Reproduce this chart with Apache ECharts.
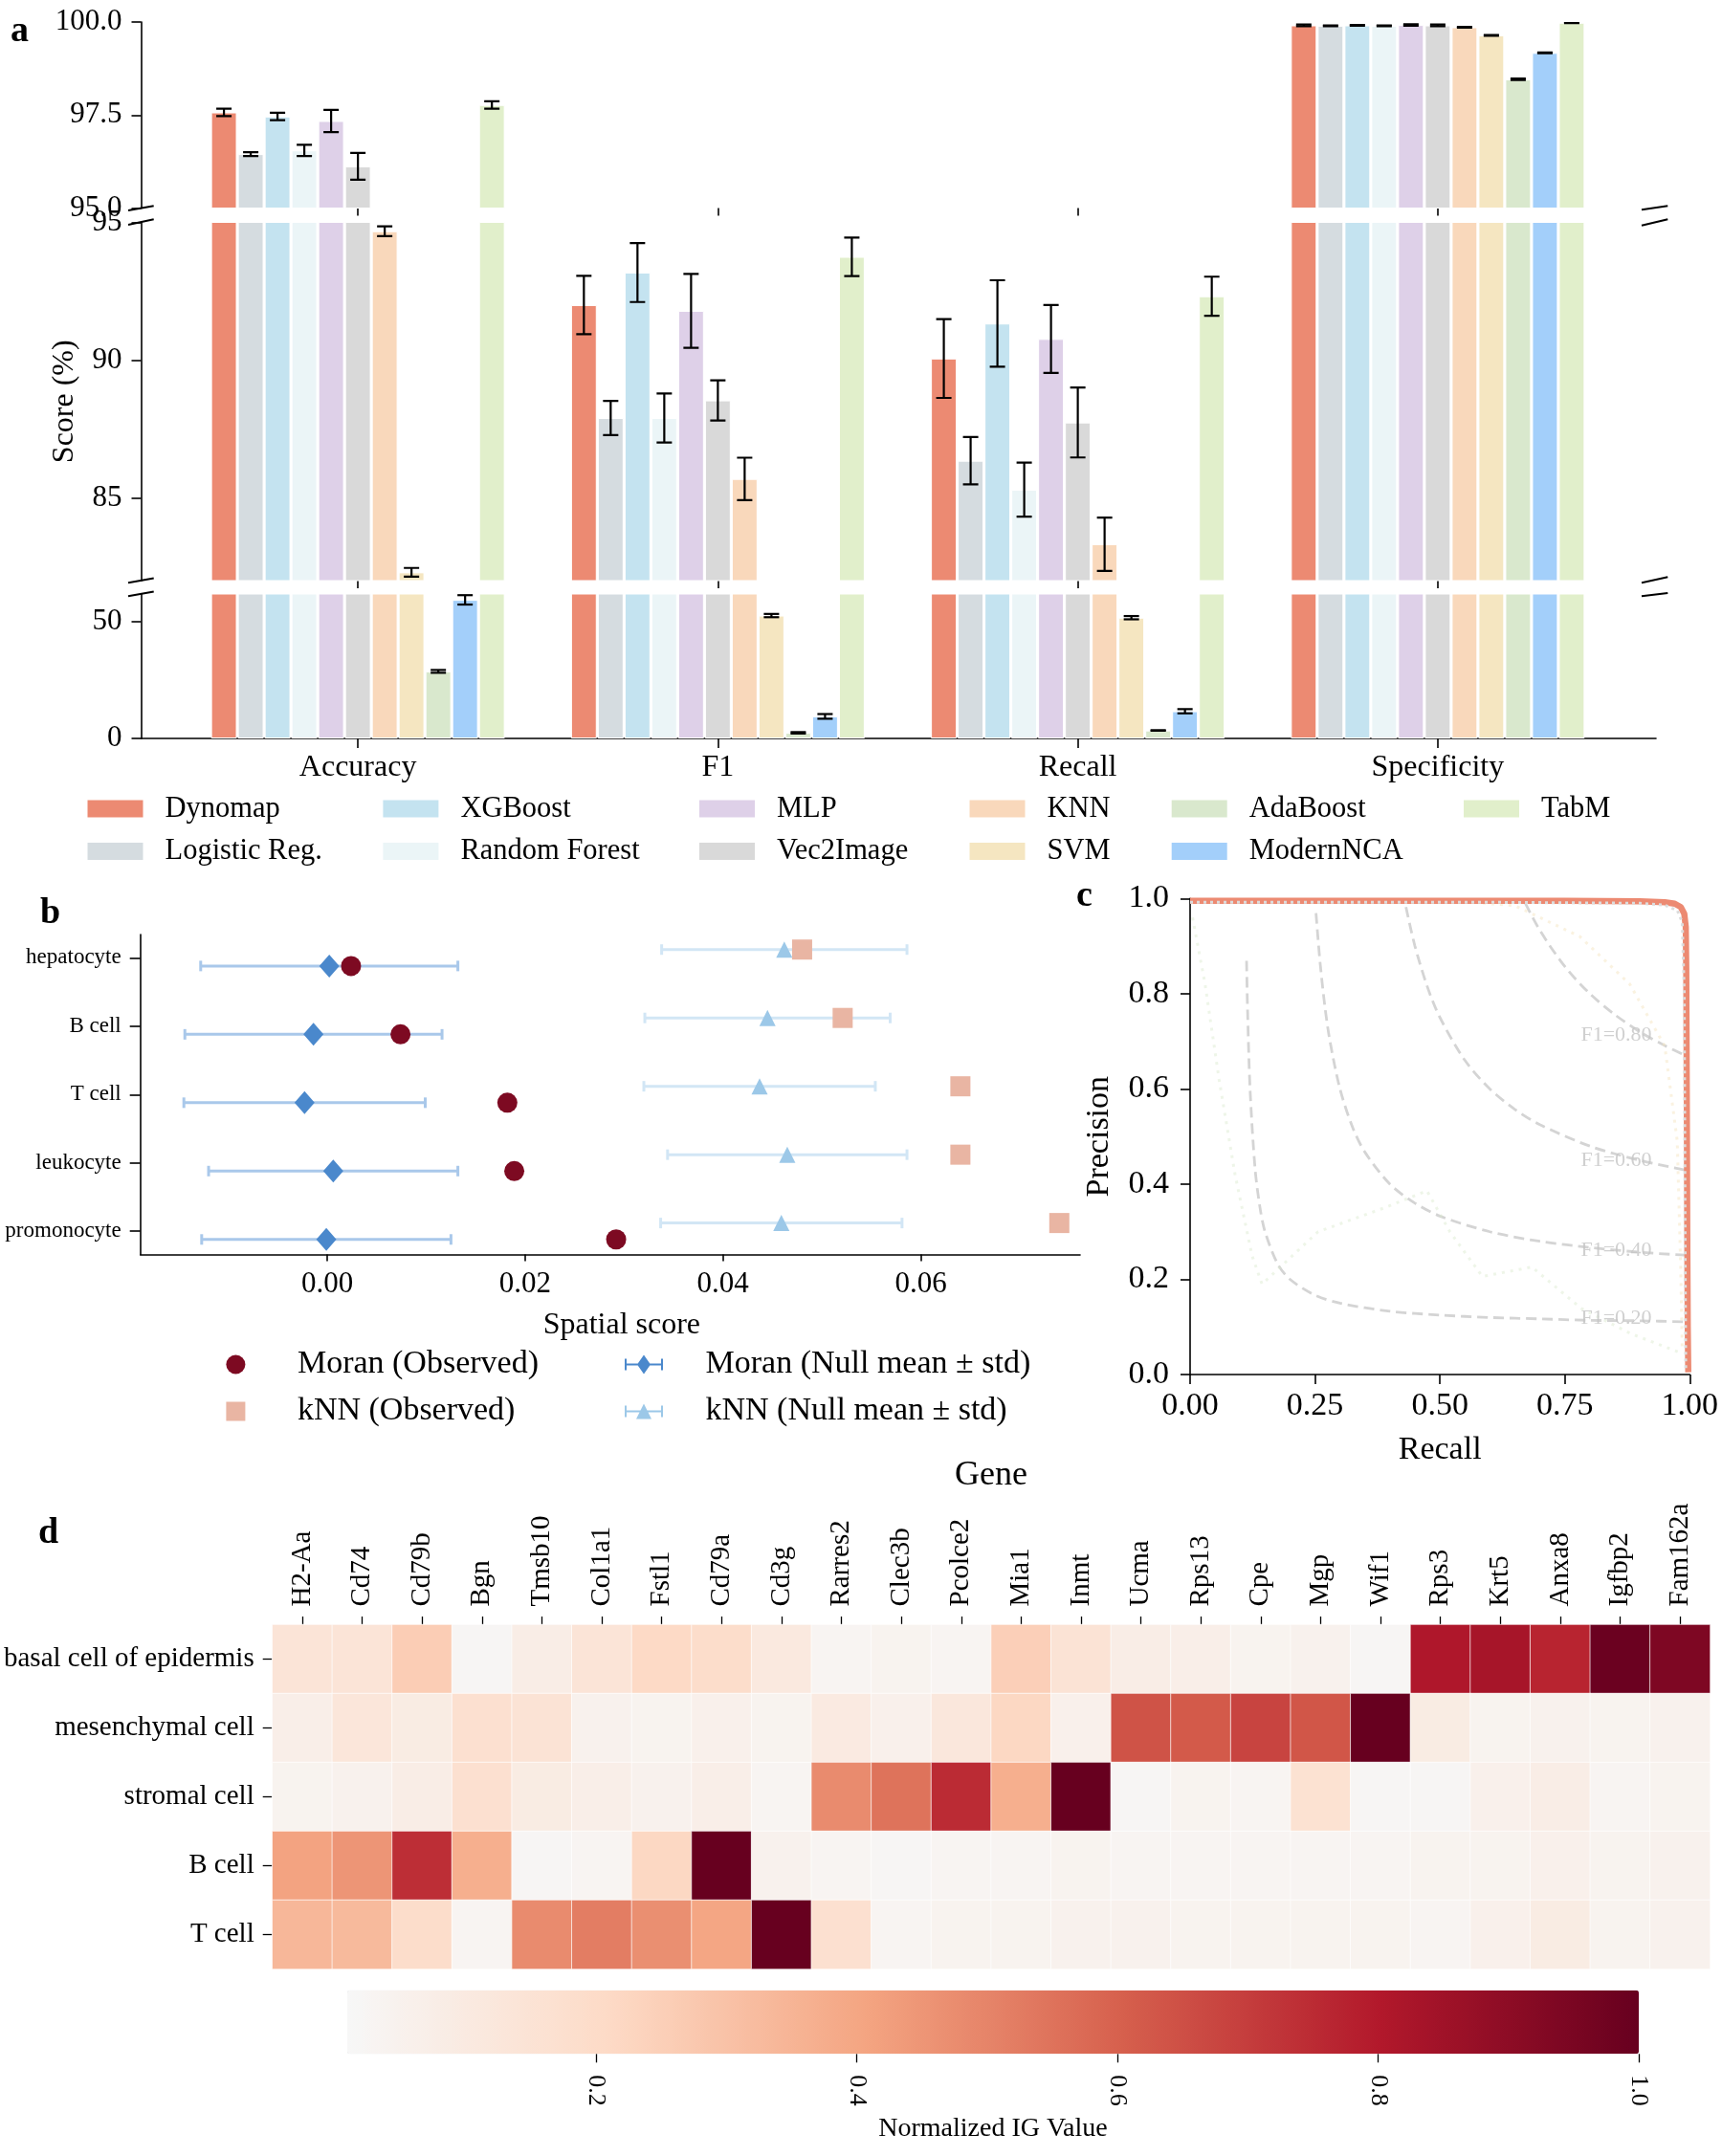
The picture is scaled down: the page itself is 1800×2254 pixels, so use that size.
<!DOCTYPE html>
<html>
<head>
<meta charset="utf-8">
<title>model comparison figure</title>
<script src="https://cdn.jsdelivr.net/npm/echarts@6/dist/echarts.min.js"></script>
<style>
  html, body { margin: 0; padding: 0; background: #fff; }
  #main { width: 1800px; height: 2254px; }
</style>
</head>
<body>
<div id="main"></div>
<script>
// ---------- a: scores per metric (%) ----------
var metrics = ['Accuracy', 'F1', 'Recall', 'Specificity'];
var models = ['Dynomap', 'Logistic Reg.', 'XGBoost', 'Random Forest', 'MLP', 'Vec2Image', 'KNN', 'SVM', 'AdaBoost', 'ModernNCA', 'TabM'];
var modelColors = ['#ec8a72', '#d5dce0', '#c4e3f0', '#ebf5f7', '#ded0e8', '#d9d9d9', '#f9d8bb', '#f5e6c1', '#d9e8cd', '#a3cffa', '#e1efcb'];

var accuracyScore = [97.57, 96.45, 97.46, 96.55, 97.34, 96.12, 94.68, 82.3, 28.6, 59.1, 97.77];
var accuracyErr = [0.1, 0.05, 0.1, 0.15, 0.3, 0.36, 0.18, 0.16, 0.6, 2.0, 0.1];
var f1Score = [92.0, 87.9, 93.18, 87.9, 91.79, 88.54, 85.69, 52.4, 2.4, 9.4, 93.75];
var f1Err = [1.06, 0.62, 1.07, 0.89, 1.34, 0.73, 0.77, 0.7, 0.3, 1.0, 0.7];
var recallScore = [90.06, 86.35, 91.33, 85.3, 90.77, 87.74, 83.32, 51.5, 3.4, 11.6, 92.32];
var recallErr = [1.43, 0.86, 1.57, 0.98, 1.23, 1.27, 0.97, 0.7, 0.1, 0.9, 0.71];
var specificityScore = [99.91, 99.9, 99.91, 99.9, 99.92, 99.91, 99.86, 99.64, 98.46, 99.17, 99.98];
var specificityErr = [0.02, 0.01, 0.01, 0.01, 0.02, 0.02, 0.01, 0.01, 0.02, 0.01, 0.01];

// ---------- b: spatial score ----------
var cellTypes = ['hepatocyte', 'B cell', 'T cell', 'leukocyte', 'promonocyte'];
var moranObserved = [0.0024, 0.0074, 0.0182, 0.0189, 0.0292];
var moranNullMean = [0.0002, -0.0014, -0.0023, 0.0006, -0.0001];
var moranNullStd = [0.0130, 0.0130, 0.0122, 0.0126, 0.0126];
var knnObserved = [0.0480, 0.0521, 0.0640, 0.0640, 0.0740];
var knnNullMean = [0.0462, 0.0445, 0.0437, 0.0465, 0.0459];
var knnNullStd = [0.0124, 0.0124, 0.0117, 0.0121, 0.0122];

// ---------- c: precision-recall ----------
var dynomapPR = [[0, 0.995], [0.25, 0.995], [0.5, 0.995], [0.75, 0.995], [0.9, 0.994], [0.95, 0.992], [0.97, 0.989], [0.982, 0.982], [0.989, 0.968], [0.992, 0.94], [0.993, 0.85], [0.994, 0.6], [0.995, 0.3], [0.996, 0.1], [0.997, 0.005]];
var logRegPR = [[0, 0.992], [0.3, 0.992], [0.6, 0.992], [0.9, 0.99], [0.95, 0.986], [0.975, 0.975], [0.985, 0.95], [0.989, 0.8], [0.99, 0.5], [0.991, 0.2], [0.992, 0.01]];
var svmPR = [[0, 0.995], [0.3, 0.995], [0.55, 0.993], [0.65, 0.985], [0.78, 0.92], [0.88, 0.82], [0.95, 0.69], [0.975, 0.49], [0.982, 0.22], [0.985, 0.05]];
var adaBoostPR = [[0.005, 0.96], [0.03, 0.82], [0.058, 0.62], [0.09, 0.42], [0.124, 0.25], [0.144, 0.19], [0.256, 0.3], [0.388, 0.35], [0.474, 0.386], [0.52, 0.3], [0.585, 0.206], [0.684, 0.226], [0.783, 0.139], [0.882, 0.086], [0.981, 0.046]];
var isoF1_20 = [[0.113, 0.869], [0.115, 0.767], [0.12, 0.6], [0.13, 0.433], [0.14, 0.35], [0.15, 0.3], [0.175, 0.233], [0.2, 0.2], [0.25, 0.167], [0.3, 0.15], [0.4, 0.133], [0.5, 0.125], [0.6, 0.12], [0.7, 0.117], [0.8, 0.114], [0.9, 0.113], [0.99, 0.111]];
var isoF1_40 = [[0.252, 0.969], [0.26, 0.867], [0.27, 0.771], [0.28, 0.7], [0.3, 0.6], [0.325, 0.52], [0.35, 0.467], [0.4, 0.4], [0.45, 0.36], [0.5, 0.333], [0.6, 0.3], [0.7, 0.28], [0.8, 0.267], [0.9, 0.257], [0.99, 0.251]];
var isoF1_60 = [[0.432, 0.982], [0.45, 0.9], [0.475, 0.814], [0.5, 0.75], [0.55, 0.66], [0.6, 0.6], [0.65, 0.557], [0.7, 0.525], [0.8, 0.48], [0.9, 0.45], [0.99, 0.43]];
var isoF1_80 = [[0.671, 0.99], [0.7, 0.933], [0.75, 0.857], [0.8, 0.8], [0.85, 0.756], [0.9, 0.72], [0.95, 0.691], [0.99, 0.671]];
var isoLabels = ['F1=0.80', 'F1=0.60', 'F1=0.40', 'F1=0.20'];
var isoLabelAt = [[0.78, 0.712], [0.78, 0.45], [0.78, 0.261], [0.78, 0.118]];

// ---------- d: normalized IG heatmap ----------
var genes = ['H2-Aa', 'Cd74', 'Cd79b', 'Bgn', 'Tmsb10', 'Col1a1', 'Fstl1', 'Cd79a', 'Cd3g', 'Rarres2', 'Clec3b', 'Pcolce2', 'Mia1', 'Inmt', 'Ucma', 'Rps13', 'Cpe', 'Mgp', 'Wif1', 'Rps3', 'Krt5', 'Anxa8', 'Igfbp2', 'Fam162a'];
var cellRows = ['basal cell of epidermis', 'mesenchymal cell', 'stromal cell', 'B cell', 'T cell'];
var basalIG = [0.14, 0.14, 0.26, 0.02, 0.08, 0.14, 0.21, 0.19, 0.11, 0.03, 0.04, 0.03, 0.25, 0.15, 0.08, 0.07, 0.04, 0.05, 0.02, 0.81, 0.83, 0.77, 0.99, 0.94];
var mesenchymalIG = [0.07, 0.13, 0.09, 0.17, 0.15, 0.05, 0.04, 0.06, 0.04, 0.10, 0.06, 0.12, 0.22, 0.06, 0.64, 0.62, 0.68, 0.63, 1.00, 0.09, 0.04, 0.05, 0.04, 0.05];
var stromalIG = [0.04, 0.05, 0.08, 0.17, 0.09, 0.07, 0.05, 0.07, 0.03, 0.48, 0.55, 0.75, 0.37, 1.00, 0.02, 0.04, 0.03, 0.16, 0.02, 0.02, 0.06, 0.08, 0.03, 0.04];
var bCellIG = [0.41, 0.45, 0.74, 0.37, 0.02, 0.03, 0.22, 1.00, 0.05, 0.03, 0.02, 0.03, 0.03, 0.04, 0.03, 0.03, 0.03, 0.03, 0.03, 0.04, 0.04, 0.06, 0.04, 0.05];
var tCellIG = [0.34, 0.33, 0.19, 0.03, 0.48, 0.52, 0.47, 0.40, 1.00, 0.17, 0.03, 0.04, 0.04, 0.05, 0.05, 0.04, 0.04, 0.04, 0.04, 0.03, 0.06, 0.09, 0.04, 0.05];
var igTicks = [0.2, 0.4, 0.6, 0.8, 1.0];

// ---------- layout ----------
var FONT = "'Liberation Serif', 'Times New Roman', Times, serif";
function txt(size, extra) {
  return Object.assign({fontFamily: FONT, fontSize: size, color: '#000'}, extra || {});
}
function numLabel(size, digits, extra) {
  return Object.assign({
    formatter: function (v) { return (+v).toFixed(digits); }
  }, txt(size), extra || {});
}
var blackLine = {color: '#000', width: 1.6};

var chart = echarts.init(document.getElementById('main'));
var grid = [], xAxis = [], yAxis = [], series = [], legend = [];

// broken y axis: three panels sharing the metric categories
var aPanels = [
  {top: 23, height: 194.5, min: 95, max: 100, ticks: [95, 97.5, 100], digits: 1},
  {top: 232.5, height: 374.5, min: 82, max: 95, ticks: [85, 90, 95], digits: 0},
  {top: 621, height: 151, min: 0, max: 61.6, ticks: [0, 50], digits: 0}
];
var scores = [accuracyScore, f1Score, recallScore, specificityScore];
var errs = [accuracyErr, f1Err, recallErr, specificityErr];
var BAR_GAP = 0.04, CAT_GAP = 0.184;

function renderBarErr(params, api) {
  var k = api.value(0), i = api.value(1), n = models.length;
  var band = api.size([1, 0])[0];
  var inner = band * (1 - CAT_GAP);
  var bw = inner / (n + (n - 1) * BAR_GAP);
  var x = api.coord([k, 0])[0] - inner / 2 + bw / 2 + i * bw * (1 + BAR_GAP);
  var y0 = api.coord([k, api.value(2)])[1];
  var y1 = api.coord([k, api.value(3)])[1];
  var st = {stroke: '#000', lineWidth: 2.2};
  return {type: 'group', children: [
    {type: 'line', shape: {x1: x, y1: y0, x2: x, y2: y1}, style: st},
    {type: 'line', shape: {x1: x - 8, y1: y0, x2: x + 8, y2: y0}, style: st},
    {type: 'line', shape: {x1: x - 8, y1: y1, x2: x + 8, y2: y1}, style: st}
  ]};
}

var errData = [];
metrics.forEach(function (mt, k) {
  models.forEach(function (m, i) {
    errData.push([k, i, scores[k][i] - errs[k][i], scores[k][i] + errs[k][i]]);
  });
});

aPanels.forEach(function (p, pi) {
  grid.push({left: 186, right: 109, top: p.top, height: p.height, outerBoundsMode: 'none'});
  xAxis.push({
    type: 'category', gridIndex: pi, data: metrics,
    axisLine: {show: false, onZero: false},
    axisTick: {show: true, alignWithLabel: true, length: pi === 2 ? 10 : 8, lineStyle: blackLine},
    axisLabel: Object.assign({show: pi === 2, margin: 15}, txt(32)),
    splitLine: {show: false}
  });
  yAxis.push({
    type: 'value', gridIndex: pi, min: p.min, max: p.max, offset: 38.5,
    axisLine: {show: true, onZero: false, lineStyle: blackLine},
    axisTick: {show: true, length: 10, customValues: p.ticks, lineStyle: blackLine},
    axisLabel: numLabel(31, p.digits, {customValues: p.ticks, margin: 20}),
    splitLine: {show: false},
    name: pi === 1 ? 'Score (%)' : '', nameLocation: 'middle', nameGap: 64, nameTextStyle: txt(32)
  });
  models.forEach(function (m, i) {
    series.push({
      type: 'bar', name: m, xAxisIndex: pi, yAxisIndex: pi,
      data: scores.map(function (s) { return s[i]; }),
      barGap: '4%', barCategoryGap: '18.4%', clip: true, silent: true,
      itemStyle: {color: modelColors[i], borderColor: '#fff', borderWidth: 1}
    });
  });
  series.push({
    type: 'custom', xAxisIndex: pi, yAxisIndex: pi, clip: true, silent: true, z: 5,
    encode: {x: 0, y: [2, 3]}, data: errData, renderItem: renderBarErr
  });
});

// long baseline under panel a
grid.push({left: 147.5, right: 69, top: 621, height: 151, outerBoundsMode: 'none'});
xAxis.push({type: 'value', gridIndex: 3, min: 0, max: 1, axisLine: {show: true, onZero: false, lineStyle: blackLine},
  axisTick: {show: false}, axisLabel: {show: false}, splitLine: {show: false}});
yAxis.push({type: 'value', gridIndex: 3, show: false, min: 0, max: 1, splitLine: {show: false}});

var aLegendCols = [['Dynomap', 'Logistic Reg.'], ['XGBoost', 'Random Forest'], ['MLP', 'Vec2Image'], ['KNN', 'SVM'], ['AdaBoost', 'ModernNCA'], ['TabM']];
var aLegendLeft = [89.5, 398.4, 729, 1011.5, 1222.7, 1528];
aLegendCols.forEach(function (names, c) {
  legend.push({
    data: names, orient: 'vertical', left: aLegendLeft[c], top: 830, padding: 0,
    itemWidth: 60, itemHeight: 20, itemGap: 13.4, icon: 'rect', symbolKeepAspect: false, selectedMode: false,
    textStyle: txt(30.5, {lineHeight: 20, padding: [0, 0, 0, 17]})
  });
});

// ---------- b ----------
grid.push({left: 146.7, width: 982.3, top: 977, height: 334.5, outerBoundsMode: 'none'});
xAxis.push({
  type: 'value', gridIndex: 4, min: -0.0189, max: 0.0761,
  axisLine: {show: true, onZero: false, lineStyle: blackLine},
  axisTick: {show: true, length: 7, customValues: [0, 0.02, 0.04, 0.06], lineStyle: blackLine},
  axisLabel: numLabel(31, 2, {customValues: [0, 0.02, 0.04, 0.06], margin: 16}),
  splitLine: {show: false},
  name: 'Spatial score', nameLocation: 'middle', nameGap: 58, nameTextStyle: txt(32, {padding: [0, 0, 0, 24]})
});
yAxis.push({
  type: 'value', gridIndex: 4, inverse: true, min: -0.34, max: 4.34,
  axisLine: {show: true, onZero: false, lineStyle: blackLine},
  axisTick: {show: true, length: 11, customValues: [0, 1, 2, 3, 4], lineStyle: blackLine},
  axisLabel: Object.assign({customValues: [0, 1, 2, 3, 4], margin: 20,
    formatter: function (v) { return cellTypes[Math.round(v)]; }}, txt(23)),
  splitLine: {show: false}
});

function hErr(color) {
  return function (params, api) {
    var a = api.coord([api.value(0), api.value(2)]);
    var b = api.coord([api.value(1), api.value(2)]);
    var st = {stroke: color, lineWidth: 3};
    return {type: 'group', children: [
      {type: 'line', shape: {x1: a[0], y1: a[1], x2: b[0], y2: b[1]}, style: st},
      {type: 'line', shape: {x1: a[0], y1: a[1] - 5.5, x2: a[0], y2: a[1] + 5.5}, style: st},
      {type: 'line', shape: {x1: b[0], y1: b[1] - 5.5, x2: b[0], y2: b[1] + 5.5}, style: st}
    ]};
  };
}
var ROW_SHIFT = 0.12;
series.push({type: 'custom', xAxisIndex: 4, yAxisIndex: 4, silent: true, encode: {x: [0, 1], y: 2},
  data: cellTypes.map(function (c, j) { return [moranNullMean[j] - moranNullStd[j], moranNullMean[j] + moranNullStd[j], j + ROW_SHIFT]; }),
  renderItem: hErr('#a9c8ea')});
series.push({type: 'custom', xAxisIndex: 4, yAxisIndex: 4, silent: true, encode: {x: [0, 1], y: 2},
  data: cellTypes.map(function (c, j) { return [knnNullMean[j] - knnNullStd[j], knnNullMean[j] + knnNullStd[j], j - ROW_SHIFT]; }),
  renderItem: hErr('#d2e6f5')});
series.push({type: 'scatter', name: 'Moran (Null mean ± std)', xAxisIndex: 4, yAxisIndex: 4, silent: true,
  symbol: 'diamond', symbolSize: [21, 24], itemStyle: {color: '#4a88cc', opacity: 1},
  data: moranNullMean.map(function (v, j) { return [v, j + ROW_SHIFT]; })});
series.push({type: 'scatter', name: 'kNN (Null mean ± std)', xAxisIndex: 4, yAxisIndex: 4, silent: true,
  symbol: 'triangle', symbolSize: 17, itemStyle: {color: '#9cc8e8', opacity: 1},
  data: knnNullMean.map(function (v, j) { return [v, j - ROW_SHIFT]; })});
series.push({type: 'scatter', name: 'Moran (Observed)', xAxisIndex: 4, yAxisIndex: 4, silent: true,
  symbol: 'circle', symbolSize: 21, itemStyle: {color: '#7d0a22', opacity: 1},
  data: moranObserved.map(function (v, j) { return [v, j + ROW_SHIFT]; })});
series.push({type: 'scatter', name: 'kNN (Observed)', xAxisIndex: 4, yAxisIndex: 4, silent: true,
  symbol: 'rect', symbolSize: 21, itemStyle: {color: '#e9b5a3', opacity: 1},
  data: knnObserved.map(function (v, j) { return [v, j - ROW_SHIFT]; })});

var circleIcon = 'path://M10,0A10,10,0,1,1,9.99,0z';
var squareIcon = 'path://M0,0h20v20h-20z';
var diamondErrIcon = 'path://M0,9h40v2h-40z M0,4h2v12h-2z M38,4h2v12h-2z M20,0L27,10L20,20L13,10z';
var triErrIcon = 'path://M0,9h40v2h-40z M0,4h2v12h-2z M38,4h2v12h-2z M20,2L28,18L12,18z';
var bLegendCommon = {orient: 'vertical', top: 1409.5, padding: 0, itemWidth: 40, itemHeight: 20, itemGap: 15,
  selectedMode: false, symbolKeepAspect: true, textStyle: txt(34, {lineHeight: 20, padding: [0, 0, 0, 39.5]})};
legend.push(Object.assign({left: 236.4, data: [{name: 'Moran (Observed)', icon: circleIcon}, {name: 'kNN (Observed)', icon: squareIcon}]}, bLegendCommon));
legend.push(Object.assign({left: 653, data: [{name: 'Moran (Null mean ± std)', icon: diamondErrIcon}, {name: 'kNN (Null mean ± std)', icon: triErrIcon}]}, bLegendCommon));

// ---------- c ----------
grid.push({left: 1244, width: 522.3, top: 939.3, height: 497.8, outerBoundsMode: 'none'});
xAxis.push({
  type: 'value', gridIndex: 5, min: 0, max: 1, interval: 0.25,
  axisLine: {show: true, onZero: false, lineStyle: blackLine},
  axisTick: {show: true, length: 10, lineStyle: blackLine},
  axisLabel: numLabel(34, 2, {margin: 16}),
  splitLine: {show: false},
  name: 'Recall', nameLocation: 'middle', nameGap: 62, nameTextStyle: txt(34)
});
yAxis.push({
  type: 'value', gridIndex: 5, min: 0, max: 1, interval: 0.2,
  axisLine: {show: true, onZero: false, lineStyle: blackLine},
  axisTick: {show: true, length: 10, lineStyle: blackLine},
  axisLabel: numLabel(34, 1, {margin: 22}),
  splitLine: {show: false},
  name: 'Precision', nameLocation: 'middle', nameGap: 78, nameTextStyle: txt(34)
});
[isoF1_80, isoF1_60, isoF1_40, isoF1_20].forEach(function (curve) {
  series.push({type: 'line', xAxisIndex: 5, yAxisIndex: 5, data: curve, showSymbol: false, smooth: 0.3, silent: true,
    lineStyle: {color: '#d4d4d4', width: 2.8, type: [11, 6]}});
});
series.push({type: 'scatter', xAxisIndex: 5, yAxisIndex: 5, silent: true, symbolSize: 2, z: 4,
  itemStyle: {color: 'rgba(0,0,0,0)'},
  data: isoLabelAt.map(function (p, j) { return [p[0], p[1], isoLabels[j]]; }),
  label: Object.assign({show: true, position: 'right', distance: 0, formatter: function (d) { return d.value[2]; }},
    txt(22, {color: '#c4c4c4'}))});
series.push({type: 'line', xAxisIndex: 5, yAxisIndex: 5, data: adaBoostPR, showSymbol: false, silent: true,
  lineStyle: {color: '#d9e8cd', width: 3, type: [3, 6], opacity: 0.45}});
series.push({type: 'line', xAxisIndex: 5, yAxisIndex: 5, data: svmPR, showSymbol: false, silent: true,
  lineStyle: {color: '#f5e6c1', width: 3, type: [3, 6], opacity: 0.5}});
series.push({type: 'line', xAxisIndex: 5, yAxisIndex: 5, data: dynomapPR, showSymbol: false, silent: true,
  lineStyle: {color: '#ec8a72', width: 6.5}});
series.push({type: 'line', xAxisIndex: 5, yAxisIndex: 5, data: logRegPR, showSymbol: false, silent: true,
  lineStyle: {color: '#dcdcdc', width: 3, type: [3, 4]}});

// ---------- d ----------
grid.push({left: 284.7, right: 12.5, top: 1698.5, height: 360, outerBoundsMode: 'none'});
xAxis.push({
  type: 'category', gridIndex: 6, data: genes, position: 'top',
  axisLine: {show: false},
  axisTick: {show: true, alignWithLabel: true, length: 8.5, lineStyle: {color: '#000', width: 1.3}},
  axisLabel: Object.assign({interval: 0, rotate: -90, margin: 19}, txt(29)),
  splitLine: {show: false},
  name: 'Gene', nameLocation: 'middle', nameGap: 138, nameTextStyle: txt(36)
});
yAxis.push({
  type: 'category', gridIndex: 6, data: cellRows, inverse: true,
  axisLine: {show: false},
  axisTick: {show: true, alignWithLabel: true, length: 10, lineStyle: {color: '#000', width: 1.3}},
  axisLabel: Object.assign({interval: 0, margin: 19}, txt(29)),
  splitLine: {show: false}
});
var heatData = [];
[basalIG, mesenchymalIG, stromalIG, bCellIG, tCellIG].forEach(function (row, r) {
  row.forEach(function (v, g) { heatData.push([g, r, v]); });
});
var heatIndex = series.length;
series.push({type: 'heatmap', xAxisIndex: 6, yAxisIndex: 6, data: heatData, silent: true,
  itemStyle: {borderColor: '#ffffff', borderWidth: 0.7}});

// colorbar axis
grid.push({left: 363, width: 1350, top: 2080.7, height: 66.6, outerBoundsMode: 'none'});
xAxis.push({
  type: 'value', gridIndex: 7, min: 0.009, max: 1,
  axisLine: {show: false, onZero: false},
  axisTick: {show: true, length: 9, customValues: igTicks, lineStyle: {color: '#000', width: 1.3}},
  axisLabel: numLabel(26, 1, {customValues: igTicks, rotate: -90, margin: 22}),
  splitLine: {show: false},
  name: 'Normalized IG Value', nameLocation: 'middle', nameGap: 64, nameTextStyle: txt(28)
});
yAxis.push({type: 'value', gridIndex: 7, show: false, min: 0, max: 1, splitLine: {show: false}});

// panel letters and axis-break marks
function mark(x1, y1, x2, y2) {
  return {type: 'line', shape: {x1: x1, y1: y1, x2: x2, y2: y2}, style: {stroke: '#000', lineWidth: 2}, silent: true};
}
function letter(t, x, y) {
  return {type: 'text', x: x, y: y, silent: true,
    style: {text: t, fontFamily: FONT, fontSize: 38, fontWeight: 'bold', fill: '#000', verticalAlign: 'middle'}};
}
var graphic = [
  letter('a', 11, 33), letter('b', 42, 955), letter('c', 1125, 937), letter('d', 40, 1603),
  mark(134, 220, 160.7, 215.3), mark(134, 235, 160.7, 229.3),
  mark(134, 609.3, 160.7, 604.6), mark(134, 623.3, 160.7, 618.6),
  mark(1716, 219.3, 1743.3, 215.3), mark(1716, 235.7, 1743.3, 229.3),
  mark(1716, 609.3, 1743.3, 603.3), mark(1716, 623.3, 1743.3, 620)
];

chart.setOption({
  animation: false,
  backgroundColor: '#fff',
  textStyle: {fontFamily: FONT},
  grid: grid,
  xAxis: xAxis,
  yAxis: yAxis,
  legend: legend,
  visualMap: {
    type: 'continuous', seriesIndex: heatIndex, min: 0.009, max: 1,
    inRange: {color: ['#f7f7f7', '#fddbc7', '#f4a582', '#d6604d', '#b2182b', '#67001f']},
    orient: 'horizontal', left: 363, top: 2080.7, itemWidth: 66.6, itemHeight: 1350,
    calculable: false, padding: 0, hoverLink: false
  },
  graphic: graphic,
  series: series
});
</script>
</body>
</html>
